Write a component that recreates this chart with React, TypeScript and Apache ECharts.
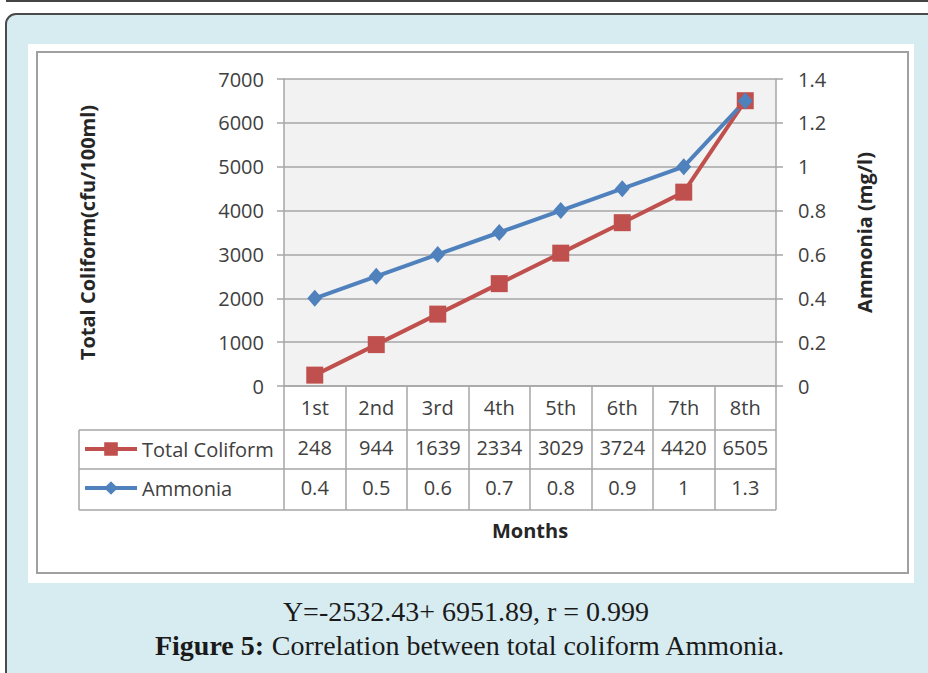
import React, { useEffect, useRef } from "react";
import * as echarts from "echarts";

const months = ["1st", "2nd", "3rd", "4th", "5th", "6th", "7th", "8th"];
const totalColiform = [248, 944, 1639, 2334, 3029, 3724, 4420, 6505];
const ammonia = [0.4, 0.5, 0.6, 0.7, 0.8, 0.9, 1, 1.3];
const seriesNames = ["Total Coliform", "Ammonia"];
const leftAxisTitle = "Total Coliform(cfu/100ml)";
const rightAxisTitle = "Ammonia (mg/l)";
const xAxisTitle = "Months";
const captionLine1 = "Y=-2532.43+ 6951.89, r = 0.999";
const captionBold = "Figure 5:";
const captionRest = " Correlation between total coliform Ammonia.";

const RED = "#c0504d";
const BLUE = "#4f81bd";
const GRAY = "#a6a6a6";
const TXT = "#404040";
const FONT = "'Open Sans', 'Noto Sans', sans-serif";

export default function App() {
  const ref = useRef<HTMLDivElement>(null);
  useEffect(() => {
    if (!ref.current) return;
    const chart = echarts.init(ref.current, undefined, { renderer: "svg" });
    const gridL = 284, gridT = 79, gridW = 492, gridH = 307;
    const gridR = gridL + gridW, gridB = gridT + gridH;
    const row1 = 430, row2 = 469, row3 = 510, tableL = 79;
    const lineStyle = { stroke: GRAY, lineWidth: 1.5 };
    chart.setOption({
      animation: false,
      backgroundColor: "#ffffff",
      textStyle: { fontFamily: FONT },
      grid: {
        left: gridL, top: gridT, width: gridW, height: gridH,
        show: true, backgroundColor: "#f2f2f2", borderWidth: 0,
      },
      legend: {
        orient: "vertical", left: 83, top: 439, padding: 0, itemWidth: 52, itemHeight: 17, itemGap: 19,
        textStyle: { fontFamily: FONT, fontSize: 20, color: TXT },
        lineStyle: { width: 4 },
        data: seriesNames,
      },
      xAxis: [
        {
          type: "category", data: months, gridIndex: 0, position: "bottom",
          axisLine: { lineStyle: { color: GRAY, width: 1.5 } },
          axisTick: { show: true, interval: 0, length: row3 - gridB, lineStyle: { color: GRAY, width: 1.5 } },
          axisLabel: { fontFamily: FONT, fontSize: 20, color: TXT, margin: 11, interval: 0 },
          name: xAxisTitle, nameLocation: "middle", nameGap: 134,
          nameTextStyle: { fontFamily: FONT, fontSize: 20, fontWeight: "bold", color: "#262626" },
        },
        {
          type: "category", data: totalColiform.map(String), gridIndex: 0, position: "bottom", offset: row1 - gridB,
          axisLine: { show: false }, axisTick: { show: false },
          axisLabel: { fontFamily: FONT, fontSize: 20, color: TXT, margin: 7, interval: 0 },
        },
        {
          type: "category", data: ammonia.map(String), gridIndex: 0, position: "bottom", offset: row2 - gridB,
          axisLine: { show: false }, axisTick: { show: false },
          axisLabel: { fontFamily: FONT, fontSize: 20, color: TXT, margin: 8, interval: 0 },
        },
      ],
      yAxis: [
        {
          type: "value", min: 0, max: 7000, interval: 1000, position: "left",
          axisLine: { show: true, lineStyle: { color: GRAY, width: 1.5 } },
          axisTick: { show: true, length: 7, lineStyle: { color: GRAY, width: 1.5 } },
          axisLabel: { fontFamily: FONT, fontSize: 20, color: TXT, margin: 20, formatter: (v: number) => String(v) },
          splitLine: { show: true, lineStyle: { color: GRAY, width: 1.5 } },
          name: leftAxisTitle, nameLocation: "middle", nameGap: 187, nameRotate: 90,
          nameTextStyle: { fontFamily: FONT, fontSize: 20, fontWeight: "bold", color: "#262626" },
        },
        {
          type: "value", min: 0, max: 1.4, interval: 0.2, position: "right",
          axisLine: { show: true, lineStyle: { color: GRAY, width: 1.5 } },
          axisTick: { show: true, length: 7, lineStyle: { color: GRAY, width: 1.5 } },
          axisLabel: { fontFamily: FONT, fontSize: 20, color: TXT, margin: 22 },
          splitLine: { show: false },
          name: rightAxisTitle, nameLocation: "middle", nameGap: 78, nameRotate: 90,
          nameTextStyle: { fontFamily: FONT, fontSize: 20, fontWeight: "bold", color: "#262626" },
        },
      ],
      series: [
        {
          name: seriesNames[0], type: "line", data: totalColiform, xAxisIndex: 0, yAxisIndex: 0,
          symbol: "rect", symbolSize: 17,
          lineStyle: { color: RED, width: 4 }, itemStyle: { color: RED },
        },
        {
          name: seriesNames[1], type: "line", data: ammonia, xAxisIndex: 0, yAxisIndex: 1,
          symbol: "diamond", symbolSize: [15, 17],
          lineStyle: { color: BLUE, width: 4 }, itemStyle: { color: BLUE },
        },
      ],
      graphic: [
        { type: "line", z: -100, shape: { x1: 6, y1: 1, x2: 928, y2: 1 }, style: { stroke: "#444", lineWidth: 2 } },
        { type: "rect", z: -100, shape: { x: 6, y: 14, width: 960, height: 720, r: 10 }, style: { fill: "#d7ecf1", stroke: "#4a4a4a", lineWidth: 2 } },
        { type: "rect", z: -99, shape: { x: 28, y: 44, width: 886, height: 539 }, style: { fill: "#ffffff" } },
        { type: "rect", z: -98, shape: { x: 37, y: 52, width: 871, height: 521 }, style: { fill: "none", stroke: "#a0a0a0", lineWidth: 2 } },
        { type: "line", z: 5, shape: { x1: tableL, y1: row1, x2: gridR, y2: row1 }, style: lineStyle },
        { type: "line", z: 5, shape: { x1: tableL, y1: row2, x2: gridR, y2: row2 }, style: lineStyle },
        { type: "line", z: 5, shape: { x1: tableL, y1: row3, x2: gridR, y2: row3 }, style: lineStyle },
        { type: "line", z: 5, shape: { x1: tableL, y1: row1, x2: tableL, y2: row3 }, style: lineStyle },
        {
          type: "text", z: 5, x: 466, y: 611,
          style: { text: captionLine1, font: "28px 'Liberation Serif', serif", fill: "#1a1a1a", textAlign: "center", textVerticalAlign: "middle" },
        },
        {
          type: "text", z: 5, x: 470, y: 645,
          style: {
            text: "{b|" + captionBold + "}{r|" + captionRest + "}",
            textAlign: "center", textVerticalAlign: "middle",
            rich: {
              b: { fontFamily: "'Liberation Serif', serif", fontSize: 28, fontWeight: "bold", fill: "#1a1a1a" },
              r: { fontFamily: "'Liberation Serif', serif", fontSize: 28, fill: "#1a1a1a" },
            },
          },
        },
      ],
    });
    return () => chart.dispose();
  }, []);
  return <div ref={ref} style={{ position: "absolute", left: 0, top: 0, width: 928, height: 673 }} />;
}
